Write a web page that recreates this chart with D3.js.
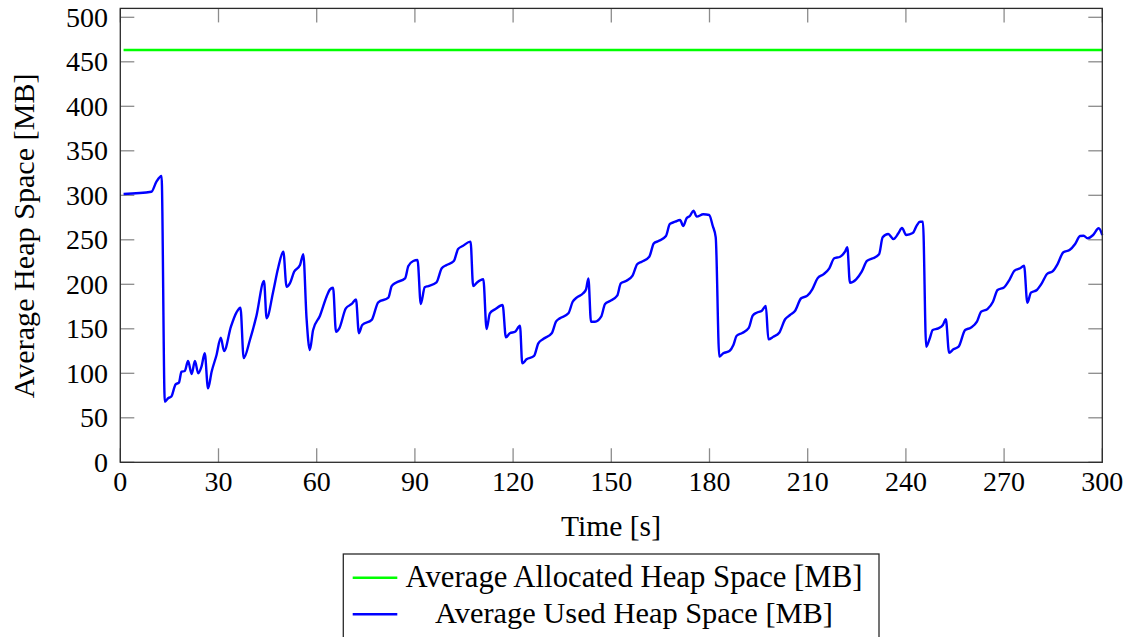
<!DOCTYPE html>
<html>
<head>
<meta charset="utf-8">
<script src="https://cdn.jsdelivr.net/npm/d3@7"></script>
<style>
  html, body { margin: 0; padding: 0; background: #fff; }
  svg { display: block; }
</style>
</head>
<body>
<svg id="chart" width="1129" height="637"></svg>
<script>
// ---- data ----
const xTicks = [0, 30, 60, 90, 120, 150, 180, 210, 240, 270, 300];
const yTicks = [0, 50, 100, 150, 200, 250, 300, 350, 400, 450, 500];
const xLabel = "Time [s]";
const yLabel = "Average Heap Space [MB]";
const seriesNames = ["Average Allocated Heap Space [MB]", "Average Used Heap Space [MB]"];
const allocatedTime = [1, 300];
const allocatedHeap = [463.3, 463.3];
const usedTime = [1, 9.5, 11, 12.6, 13.6, 14.6, 15.6, 16.9, 17.9, 18.7, 19.7, 20.7, 21.8, 22.8, 23.8, 24.8, 25.8, 26.8, 27.9, 29.4,
  30.7, 31.7, 33.8, 35.5, 36.7, 37.7, 39.6, 41.6, 43.9, 44.7, 46.7, 48.2, 49.8, 50.8, 51.8, 53.1, 54.9, 55.9, 56.9, 57.9,
  58.9, 61, 63, 64, 65, 65.9, 66.9, 68.9, 70.7, 72, 72.9, 73.9, 76.8, 78.8, 81.9, 82.9, 84.2, 87, 88, 89.5,
  90.8, 91.8, 93, 94.1, 96.6, 98.2, 99.7, 101.9, 103.2, 104.6, 107, 107.8, 108.9, 110.9, 111.9, 112.9, 114.5, 116.8, 117.8, 119,
  120.6, 122.1, 122.8, 124.1, 126.4, 127.7, 129.2, 131.8, 133.1, 134.3, 136.9, 138.2, 139.4, 141.4, 142.3, 143, 143.8, 145, 146.9, 148.1,
  149.6, 151.8, 152.9, 154.5, 156.5, 157.9, 159.3, 161.6, 163, 164.4, 166.7, 167.9, 169.5, 171, 172, 173, 174, 175.1, 176.1, 178.1,
  179.9, 181, 181.9, 183, 184.2, 186.1, 187.3, 188.3, 190, 192, 193.2, 194.4, 196, 197.2, 198, 199.5, 201.3, 203.1, 204.6, 206.1,
  208, 209.9, 211.4, 213, 214.8, 216.6, 218.1, 219.9, 221.4, 222.1, 222.9, 224.8, 226.5, 228.1, 229.9, 231.8, 232.9, 234.6, 236.2, 237.7,
  238.8, 240.1, 242.1, 243.3, 244.3, 245.2, 246.2, 247.2, 248.2, 249.9, 251.3, 252.2, 253.2, 254.5, 256.1, 258.1, 259.8, 261.7, 263, 264.9,
  266.6, 268, 270, 271.6, 273.2, 274.9, 276.1, 277.1, 278.2, 280, 281.5, 283.1, 284.9, 286.3, 288.1, 290, 291.7, 293.2, 294.3, 295.5,
  297.2, 298.9, 300];
const usedHeap = [301.5, 304, 315, 321.7, 68, 72, 74, 87.6, 89.5, 101.8, 102.6, 113.8, 99.2, 113.8, 100, 107.4, 122.5, 83.1, 101.8, 120.6,
  140, 125, 152.4, 168.5, 173.7, 117, 137.4, 164.7, 203.7, 161.8, 191.7, 218, 236.6, 197.3, 201, 214, 221.7, 233.7, 161.8, 126.2,
  148.7, 164.7, 186, 194, 196.2, 146.7, 150.5, 173, 177.9, 183, 145, 154.3, 160, 179.8, 185, 198, 201.8, 206.7, 220.6, 226.2,
  227.3, 177.9, 196.6, 198, 202.2, 218, 221.7, 226.2, 239.7, 243, 247.9, 198, 201.8, 205.6, 149.8, 167.4, 171.9, 176.7, 140.4, 145,
  146.7, 153.5, 111.2, 115.7, 119.5, 133.7, 138.5, 145, 158, 161.8, 167.4, 180.4, 185, 189.9, 194.4, 206.7, 158, 158, 163.6, 177.9,
  181.2, 187.2, 201, 203.7, 209.7, 222.5, 225.4, 231, 246, 248.6, 254.3, 267.8, 270.3, 272.2, 265.5, 274.2, 276.7, 282.7, 276, 278.7,
  277.9, 265.5, 252.8, 118.7, 122.5, 125, 131.8, 142.2, 145.3, 151, 164.7, 168.1, 170.3, 175.6, 138.2, 141.1, 145.6, 160.7, 165.5, 170,
  184.3, 187.2, 194.4, 206.7, 211.2, 218, 229.2, 231, 236.6, 241.6, 201.8, 205.6, 214.2, 226.2, 229.2, 233.7, 252.8, 256.5, 250.9, 257.3,
  263.2, 255.4, 257.6, 266, 270.3, 270.3, 129.9, 138.2, 148.7, 150.5, 154.3, 160.7, 123.1, 127, 129.9, 148.7, 151.2, 158, 169.2, 172.2,
  180.4, 193.6, 196.6, 204.8, 215.3, 218, 220.9, 179.3, 190.6, 193.6, 201, 211.6, 214.9, 222.5, 236, 238.5, 245.3, 254.3, 254.6, 251.7,
  255.4, 262.9, 255.4];
const seriesColors = ["#00ff00", "#0000ff"];

// ---- layout ----
const FONT = "'Liberation Serif'";
const svg = d3.select("#chart");
const L = 120.3, R = 1102.3, T = 8.4, B = 462.3;
const x = d3.scaleLinear().domain([0, 300]).range([L, R]);
const y = d3.scaleLinear().domain([0, 510]).range([B, T]);
const tickLen = 14;
const tickColor = "#8c8c8c";

function addText(parent) {
  return parent.append("text").style("font-family", FONT).attr("fill", "#000");
}
// fit a text element's font size so its width matches a target width
function fitText(sel, target) {
  sel.attr("font-size", 30);
  const w = sel.node().getComputedTextLength();
  sel.attr("font-size", (30 * target / w).toFixed(2));
  return sel;
}

// ticks (inside, on all four sides)
const tg = svg.append("g");
xTicks.forEach(v => {
  tg.append("line").attr("x1", x(v)).attr("x2", x(v)).attr("y1", B).attr("y2", B - tickLen)
    .attr("stroke", tickColor).attr("stroke-width", 1.3);
  tg.append("line").attr("x1", x(v)).attr("x2", x(v)).attr("y1", T).attr("y2", T + tickLen)
    .attr("stroke", tickColor).attr("stroke-width", 1.3);
});
yTicks.forEach(v => {
  tg.append("line").attr("x1", L).attr("x2", L + tickLen).attr("y1", y(v)).attr("y2", y(v))
    .attr("stroke", tickColor).attr("stroke-width", 1.3);
  tg.append("line").attr("x1", R).attr("x2", R - tickLen).attr("y1", y(v)).attr("y2", y(v))
    .attr("stroke", tickColor).attr("stroke-width", 1.3);
});

// lines
const line = d3.line().x(d => x(d[0])).y(d => y(d[1])).curve(d3.curveMonotoneX);
const allocData = allocatedTime.map((t, i) => [t, allocatedHeap[i]]);
const usedData = usedTime.map((t, i) => [t, usedHeap[i]]);
svg.append("path").datum(allocData).attr("d", line).attr("fill", "none")
  .attr("stroke", seriesColors[0]).attr("stroke-width", 2.4);
svg.append("path").datum(usedData).attr("d", line).attr("fill", "none")
  .attr("stroke", seriesColors[1]).attr("stroke-width", 2.4).attr("stroke-linejoin", "round");

// frame
svg.append("rect").attr("x", L).attr("y", T).attr("width", R - L).attr("height", B - T)
  .attr("fill", "none").attr("stroke", "#2a2a2a").attr("stroke-width", 1.3);

// tick labels, placed with the scales
const xg = svg.append("g");
xTicks.forEach(v => {
  addText(xg).attr("x", x(v)).attr("y", 491).attr("text-anchor", "middle")
    .attr("font-size", 28).text(d3.format("d")(v));
});
const yg = svg.append("g");
yTicks.forEach(v => {
  addText(yg).attr("x", 108).attr("y", y(v) + 9.5).attr("text-anchor", "end")
    .attr("font-size", 28).text(d3.format("d")(v));
});

// axis titles
fitText(addText(svg).attr("x", 611).attr("y", 535.5).attr("text-anchor", "middle").text(xLabel), 100);
fitText(addText(svg).attr("transform", `translate(34,${(T + B) / 2 + 0.5}) rotate(-90)`)
  .attr("text-anchor", "middle").text(yLabel), 325);

// legend
const lg = svg.append("g");
lg.append("rect").attr("x", 343.3).attr("y", 554).attr("width", 879 - 343.3).attr("height", 100)
  .attr("fill", "#fff").attr("stroke", "#2a2a2a").attr("stroke-width", 1.3);
const rowY = [577.7, 614.3];
const rowW = [457, 398];
seriesNames.forEach((name, i) => {
  lg.append("line").attr("x1", 352.7).attr("x2", 397.3).attr("y1", rowY[i]).attr("y2", rowY[i])
    .attr("stroke", seriesColors[i]).attr("stroke-width", 2.4);
  fitText(addText(lg).attr("x", 634).attr("y", rowY[i] + 9).attr("text-anchor", "middle").text(name), rowW[i]);
});
</script>
</body>
</html>
